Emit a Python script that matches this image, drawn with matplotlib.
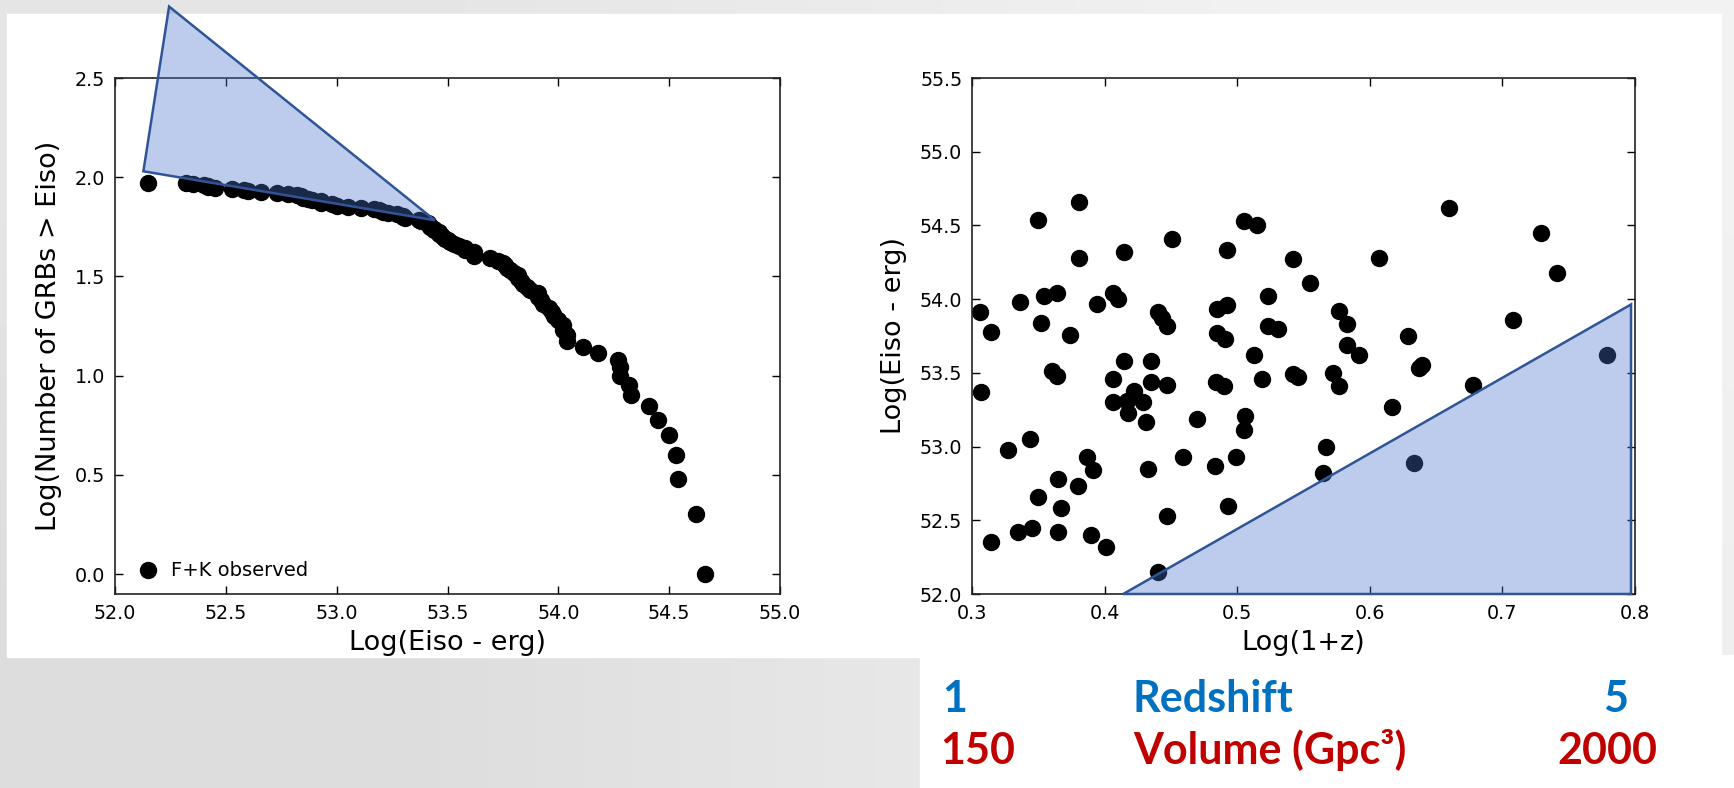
import matplotlib
matplotlib.use("Agg")
import matplotlib.pyplot as plt
import numpy as np
from matplotlib.patches import Polygon, Rectangle
from matplotlib.ticker import ScalarFormatter

# GRB sample: log(1+z) and log(Eiso / erg)
log1pz = [0.306, 0.314, 0.307, 0.314, 0.327, 0.336, 0.335, 0.345, 0.344, 0.350,
          0.354, 0.352, 0.364, 0.360, 0.364, 0.365, 0.350, 0.367, 0.365, 0.374,
          0.381, 0.381, 0.380, 0.387, 0.391, 0.390, 0.394, 0.401, 0.406, 0.410,
          0.406, 0.406, 0.415, 0.415, 0.417, 0.422, 0.418, 0.429, 0.431, 0.433,
          0.435, 0.435, 0.440, 0.443, 0.447, 0.447, 0.447, 0.440, 0.451, 0.459,
          0.470, 0.483, 0.484, 0.485, 0.491, 0.490, 0.485, 0.492, 0.492, 0.493,
          0.499, 0.505, 0.515, 0.506, 0.505, 0.513, 0.519, 0.523, 0.523, 0.531,
          0.542, 0.542, 0.546, 0.555, 0.567, 0.565, 0.572, 0.577, 0.577, 0.583,
          0.583, 0.592, 0.607, 0.617, 0.629, 0.637, 0.639, 0.633, 0.660, 0.678,
          0.708, 0.729, 0.741, 0.779]
log_eiso = [53.91, 53.78, 53.37, 52.35, 52.98, 53.98, 52.42, 52.45, 53.05, 54.54,
            54.02, 53.84, 54.04, 53.51, 53.48, 52.78, 52.66, 52.58, 52.42, 53.76,
            54.66, 54.28, 52.73, 52.93, 52.84, 52.40, 53.97, 52.32, 54.04, 54.00,
            53.46, 53.30, 54.32, 53.58, 53.31, 53.38, 53.23, 53.30, 53.17, 52.85,
            53.58, 53.44, 53.91, 53.87, 53.82, 53.42, 52.53, 52.15, 54.41, 52.93,
            53.19, 52.87, 53.44, 53.77, 53.73, 53.41, 53.93, 53.96, 54.33, 52.60,
            52.93, 54.53, 54.50, 53.21, 53.11, 53.62, 53.46, 54.02, 53.82, 53.80,
            54.27, 53.49, 53.47, 54.11, 53.00, 52.82, 53.50, 53.41, 53.92, 53.83,
            53.69, 53.62, 54.28, 53.27, 53.75, 53.53, 53.55, 52.89, 54.62, 53.42,
            53.86, 54.45, 54.18, 53.62]

# shaded regions (data coords)
left_wedge_x = [52.244, 52.128, 53.443]
left_wedge_y = [2.86, 2.03, 1.783]
right_wedge_x = [0.414, 0.797, 0.797]
right_wedge_y = [52.0, 53.964, 52.0]

fill_c = (0.29, 0.45, 0.80, 0.365)
edge_c = '#2f5597'

W, H = 1734, 788
fig = plt.figure(figsize=(W / 100, H / 100), dpi=100)

# slide background: grey gradient with white panels
bg = fig.add_axes([0, 0, 1, 1], zorder=-10)
grad = np.array([[[0.90] * 3, [0.95] * 3],
                 [[0.87] * 3, [0.94] * 3]])
bg.imshow(grad, extent=[0, 1, 0, 1], aspect='auto', interpolation='bilinear')
bg.add_patch(Rectangle((7 / W, 1 - 657 / H), (1721 - 7) / W, (657 - 14) / H, color='white'))
bg.add_patch(Rectangle((920 / W, 0), 1 - 920 / W, 1 - 657 / H + 0.002, color='white'))
bg.set_xlim(0, 1)
bg.set_ylim(0, 1)
bg.axis('off')


def style(ax):
    ax.tick_params(direction='in', top=True, right=True, length=6, width=1,
                   labelsize=13.8, pad=7)
    for s in ax.spines.values():
        s.set_linewidth(1.2)
        s.set_color('#222222')
    for a in (ax.xaxis, ax.yaxis):
        f = ScalarFormatter(useOffset=False)
        a.set_major_formatter(f)


# left panel: cumulative number of GRBs above Eiso
ax1 = fig.add_axes([115 / W, 1 - 594 / H, 665 / W, 516 / H])
e_sorted = np.sort(log_eiso)[::-1]
n_above = np.arange(1, len(e_sorted) + 1)
ax1.plot(e_sorted, np.log10(n_above), 'o', color='black', markersize=11.5,
         label='F+K observed')
ax1.add_patch(Polygon(list(zip(left_wedge_x, left_wedge_y)), closed=True,
                      facecolor=fill_c, edgecolor=edge_c, lw=1.8, clip_on=False, zorder=5))
ax1.set_xlim(52.0, 55.0)
ax1.set_ylim(-0.1, 2.5)
ax1.set_xticks(np.arange(52.0, 55.01, 0.5))
ax1.set_yticks(np.arange(0.0, 2.51, 0.5))
ax1.set_xlabel('Log(Eiso - erg)', fontsize=19.5, labelpad=5)
ax1.set_ylabel('Log(Number of GRBs > Eiso)', fontsize=19.5, labelpad=9)
style(ax1)
ax1.legend(loc='lower left', numpoints=1, frameon=False, fontsize=14,
           handletextpad=0.2, borderaxespad=0.3)

# right panel: Eiso vs redshift
ax2 = fig.add_axes([972 / W, 1 - 594 / H, 663 / W, 516 / H])
ax2.plot(log1pz, log_eiso, 'o', color='black', markersize=11.5)
ax2.add_patch(Polygon(list(zip(right_wedge_x, right_wedge_y)), closed=True,
                      facecolor=fill_c, edgecolor=edge_c, lw=1.8, clip_on=False, zorder=5))
ax2.set_xlim(0.3, 0.8)
ax2.set_ylim(52.0, 55.5)
ax2.set_xticks(np.arange(0.3, 0.81, 0.1))
ax2.set_yticks(np.arange(52.0, 55.51, 0.5))
ax2.set_xlabel('Log(1+z)', fontsize=19.5, labelpad=5)
ax2.set_ylabel('Log(Eiso - erg)', fontsize=19.5, labelpad=9)
style(ax2)

# slide captions under the right panel
blue = '#0070c0'
red = '#c00000'
kw = dict(fontsize=31, fontweight='bold', family=['Lato', 'DejaVu Sans'], va='baseline')
fig.text(942 / W, 1 - 712 / H, '1', color=blue, ha='left', **kw)
fig.text(1133 / W, 1 - 712 / H, 'Redshift', color=blue, ha='left', **kw)
fig.text(1616 / W, 1 - 712 / H, '5', color=blue, ha='center', **kw)
fig.text(940 / W, 1 - 764 / H, '150', color=red, ha='left', **kw)
fig.text(1133 / W, 1 - 764 / H, 'Volume (Gpc\u00b3)', color=red, ha='left', **kw)
fig.text(1607 / W, 1 - 764 / H, '2000', color=red, ha='center', **kw)

fig.savefig('out.png', dpi=100)
